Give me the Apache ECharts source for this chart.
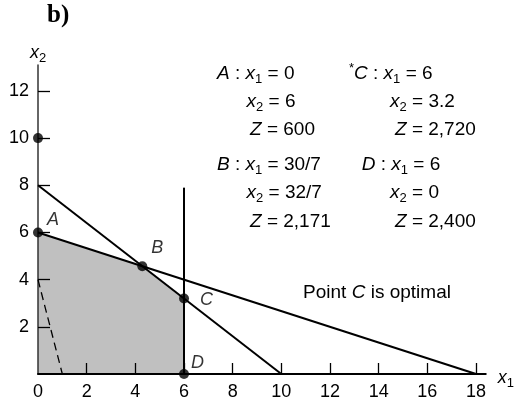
<!DOCTYPE html>
<html>
<head>
<meta charset="utf-8">
<script src="https://cdn.jsdelivr.net/npm/echarts@6/dist/echarts.min.js"></script>
<style>
html,body{margin:0;padding:0;background:#fff;}
#main{width:517px;height:404px;}
</style>
</head>
<body>
<div id="main"></div>
<script>
// ---- data ----
var xTicks = [0, 2, 4, 6, 8, 10, 12, 14, 16, 18];
var yTicks = [2, 4, 6, 8, 10, 12];
var regionPts = [[0, 6], [30 / 7, 32 / 7], [6, 3.2], [6, 0]];   // feasible region upper edge
var line1 = [[0, 8], [10, 0]];      // 4x1 + 5x2 = 40
var line2 = [[0, 6], [18, 0]];      // x1 + 3x2 = 18
var line3 = [[6, 0], [6, 7.9]];     // x1 = 6
var zLine = [[0, 4], [1, 0]];       // Z = 400x1 + 100x2 = 400
var cornerNames = ['A', 'B', 'C', 'D'];
var cornerX = [0, 30 / 7, 6, 6];
var cornerY = [6, 32 / 7, 3.2, 0];
var extraPt = [[0, 10]];
// text block: point, x1, x2, Z
var solNames = ['A', 'C', 'B', 'D'];
var solX1 = ['0', '6', '30/7', '6'];
var solX2 = ['6', '3.2', '32/7', '0'];
var solZ = ['600', '2,720', '2,171', '2,400'];

var F = '"Liberation Sans", Arial, sans-serif';
function mkRich(fs, sub) {
  return {
    n: {fontSize: fs, fontFamily: F, color: '#000', lineHeight: 24},
    i: {fontSize: fs, fontFamily: F, fontStyle: 'italic', color: '#000', lineHeight: 24},
    s: {fontSize: sub, fontFamily: F, color: '#000', verticalAlign: 'bottom', lineHeight: 16},
    t: {fontSize: sub, fontFamily: F, color: '#000', verticalAlign: 'top', lineHeight: 14}
  };
}
var rich = mkRich(19, 13);
var richAxis = mkRich(18, 13);

var chart = echarts.init(document.getElementById('main'));

var labelOffsets = [[0, -12], [0, -18], [7, 1], [-2, -11]];
var cornerData = cornerNames.map(function (n, k) {
  return {
    name: n,
    value: [cornerX[k], cornerY[k]],
    label: {show: true, formatter: n, position: 'right', offset: labelOffsets[k]}
  };
});

// text block
var colX = [[217, 246.5, 250], [349, 390, 395]];
var rowY = [[74, 102, 130], [165, 193, 221.5]];
var graphics = [];
solNames.forEach(function (n, k) {
  var col = k % 2, grp = Math.floor(k / 2);
  var head = (n === 'C' ? '{t|*}' : '') + '{i|' + n + '}{n| : }{i|x}{s|1}{n| = ' + solX1[k] + '}';
  var lines = [head, '{i|x}{s|2}{n| = ' + solX2[k] + '}', '{i|Z}{n| = ' + solZ[k] + '}'];
  lines.forEach(function (txt, r) {
    var x = colX[col][r];
    if (r === 0 && n === 'D') x = 361.7;
    graphics.push({
      type: 'text', x: x, y: rowY[grp][r],
      style: {text: txt, rich: rich, align: 'left', verticalAlign: 'middle'}
    });
  });
});
graphics.push({
  type: 'text', x: 47, y: 16,
  style: {text: 'b)', font: 'bold 25px "Liberation Serif", "Times New Roman", serif', fill: '#000', verticalAlign: 'middle'}
});
graphics.push({
  type: 'text', x: 377, y: 293,
  style: {text: '{n|Point }{i|C}{n| is optimal}', rich: rich, align: 'center', verticalAlign: 'middle'}
});
graphics.push({
  type: 'text', x: 65, y: 325,
  style: {text: 'Z', font: '18px ' + F, fill: '#000', align: 'center', verticalAlign: 'middle'}
});

var option = {
  animation: false,
  grid: {left: 38, right: 25, top: 65, bottom: 30},
  xAxis: {
    type: 'value', min: 0, max: 18.4, interval: 2, z: 3,
    name: '{i|x}{s|1}', nameLocation: 'end', nameGap: 12,
    nameTextStyle: {rich: richAxis, verticalAlign: 'middle', padding: [8, 0, 0, 0]},
    splitLine: {show: false},
    axisLine: {lineStyle: {color: '#000', width: 2}},
    axisTick: {inside: true, length: 11, customValues: xTicks.slice(1), lineStyle: {color: '#000', width: 1.3}},
    axisLabel: {customValues: xTicks, margin: 9, fontSize: 18, fontFamily: F, color: '#000'}
  },
  yAxis: {
    type: 'value', min: 0, max: 13.1, interval: 2, z: 3,
    name: '{i|x}{s|2}', nameLocation: 'end', nameGap: 0,
    nameTextStyle: {rich: richAxis, align: 'center'},
    splitLine: {show: false},
    axisLine: {lineStyle: {color: '#333', width: 1.5}},
    axisTick: {inside: true, length: 12, customValues: yTicks, lineStyle: {color: '#000', width: 1.3}},
    axisLabel: {customValues: yTicks, margin: 9, fontSize: 18, fontFamily: F, color: '#000'}
  },
  graphic: graphics,
  series: [
    {
      type: 'line', data: regionPts, showSymbol: false, z: 1,
      lineStyle: {width: 0, opacity: 0},
      areaStyle: {color: '#c0c0c0', opacity: 1}
    },
    {type: 'line', data: line1, showSymbol: false, z: 4, lineStyle: {color: '#000', width: 2}},
    {type: 'line', data: line2, showSymbol: false, z: 4, lineStyle: {color: '#000', width: 2}},
    {type: 'line', data: line3, showSymbol: false, z: 4, lineStyle: {color: '#000', width: 2}},
    {type: 'line', data: zLine, showSymbol: false, z: 4, lineStyle: {color: '#000', width: 1.3, type: [8, 5]}},
    {
      type: 'scatter', data: cornerData, symbolSize: 10, z: 5,
      itemStyle: {color: '#000'},
      label: {fontSize: 18, fontFamily: F, fontStyle: 'italic', color: '#000', distance: 4}
    },
    {type: 'scatter', data: extraPt, symbolSize: 10, z: 5, itemStyle: {color: '#000'}}
  ]
};
chart.setOption(option);
</script>
</body>
</html>
